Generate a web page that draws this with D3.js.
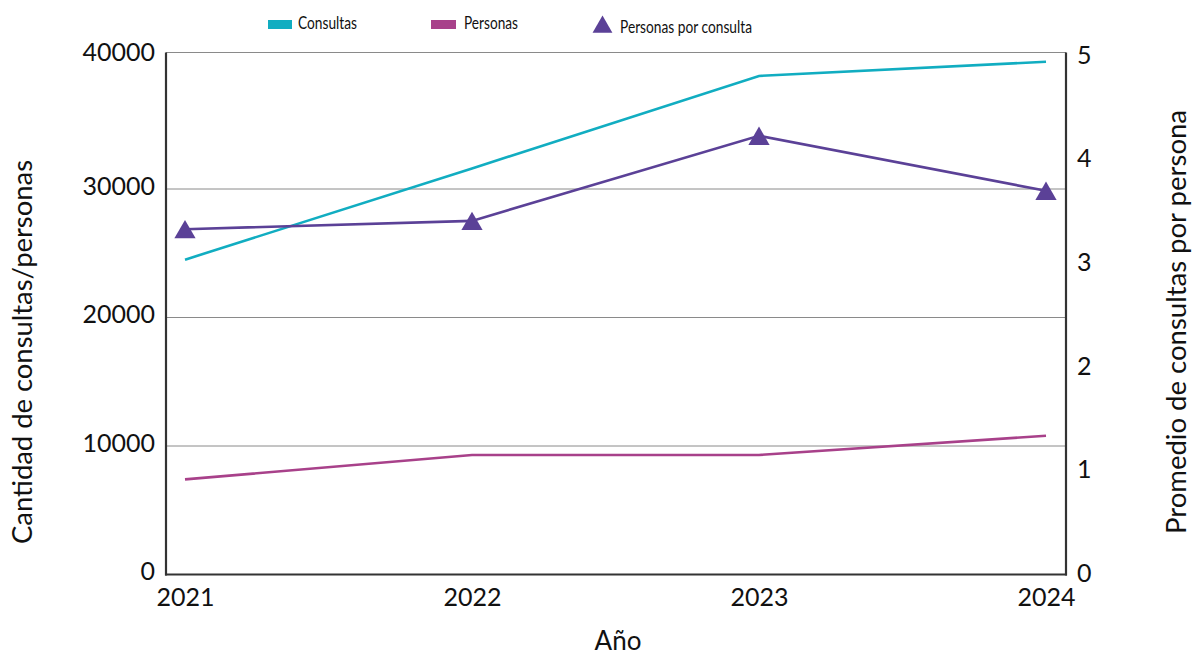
<!DOCTYPE html>
<html><head><meta charset="utf-8">
<script src="https://cdn.jsdelivr.net/npm/d3@7"></script>
<style>body{margin:0;background:#fff;} text{font-family:Lato, "Liberation Sans", sans-serif;fill:#111;}</style>
</head><body>
<svg id="c" width="1194" height="657"></svg>
<script>
const years = ["2021","2022","2023","2024"];
const consultas = [24500, 31600, 38800, 39900];
const personas = [7400, 9300, 9300, 10800];
const personasPorConsulta = [3.33, 3.41, 4.23, 3.7];
const leftTicks = [0, 10000, 20000, 30000, 40000];
const rightTicks = [0, 1, 2, 3, 4, 5];

const svg = d3.select("#c");
const L = 166, R = 1066, T = 52.5, B = 574.5;
const x = d3.scalePoint().domain(years).range([185, 1046]);
const yL = d3.scaleLinear().domain([0, 40000]).range([B, 60.5]);
const yR = d3.scaleLinear().domain([0, 5]).range([B, 56]);

const cCons = "#11adc1", cPers = "#a8418a", cPpc = "#5b4197";

// top border and gridlines
svg.append("line").attr("x1", L).attr("x2", R).attr("y1", T).attr("y2", T).attr("stroke", "#8a8a8a").attr("stroke-width", 1);
svg.append("g").selectAll("line").data(leftTicks.filter(d => d > 0 && d < 40000)).join("line")
  .attr("x1", L).attr("x2", R).attr("y1", d => yL(d)).attr("y2", d => yL(d))
  .attr("stroke", "#8a8a8a").attr("stroke-width", 1);

// axes
const axL = svg.append("g").attr("transform", `translate(${L},-3)`)
  .call(d3.axisLeft(yL).tickValues(leftTicks).tickSize(0).tickPadding(11).tickFormat(d3.format("d")));
axL.selectAll(".tick").filter(d => d === 40000).attr("transform", `translate(0,${T + 3})`);
const axR = svg.append("g").attr("transform", `translate(${R},-1)`)
  .call(d3.axisRight(yR).tickValues(rightTicks).tickSize(0).tickPadding(11).tickFormat(d3.format("d")));
const axB = svg.append("g").attr("transform", `translate(0,${B})`)
  .call(d3.axisBottom(x).tickSize(0).tickPadding(14));
[axL, axR, axB].forEach(a => {
  a.select(".domain").remove();
  a.selectAll("text").style("font-family", "Lato, sans-serif").style("font-size", "25px").attr("fill", "#111");
});
// axis lines
svg.append("line").attr("x1", L).attr("x2", L).attr("y1", T).attr("y2", B + 1).attr("stroke", "#333").attr("stroke-width", 2.2);
svg.append("line").attr("x1", R).attr("x2", R).attr("y1", T).attr("y2", B + 1).attr("stroke", "#333").attr("stroke-width", 2.2);
svg.append("line").attr("x1", L - 1).attr("x2", R + 1).attr("y1", B).attr("y2", B).attr("stroke", "#333").attr("stroke-width", 2.2);

// lines
const lineL = d3.line().x((d, i) => x(years[i])).y(d => yL(d));
const lineR = d3.line().x((d, i) => x(years[i])).y(d => yR(d));
svg.append("path").datum(consultas).attr("d", lineL).attr("fill", "none").attr("stroke", cCons).attr("stroke-width", 2.6);
svg.append("path").datum(personas).attr("d", lineL).attr("fill", "none").attr("stroke", cPers).attr("stroke-width", 2.6);
svg.append("path").datum(personasPorConsulta).attr("d", lineR).attr("fill", "none").attr("stroke", cPpc).attr("stroke-width", 2.6);
const tri = d3.symbol().type(d3.symbolTriangle).size(195);
svg.append("g").selectAll("path").data(personasPorConsulta).join("path")
  .attr("d", tri).attr("fill", cPpc)
  .attr("transform", (d, i) => `translate(${x(years[i])},${yR(d) + 3})`);

// axis titles
svg.append("text").attr("x", 618).attr("y", 650).attr("text-anchor", "middle").style("font-size", "26px").text("Año");
svg.append("text").attr("transform", "translate(32,352) rotate(-90)").attr("text-anchor", "middle").style("font-size", "26px")
  .attr("textLength", 384).attr("lengthAdjust", "spacingAndGlyphs").text("Cantidad de consultas/personas");
svg.append("text").attr("transform", "translate(1186,322) rotate(-90)").attr("text-anchor", "middle").style("font-size", "26px")
  .attr("textLength", 424).attr("lengthAdjust", "spacingAndGlyphs").text("Promedio de consultas por persona");

// legend
const lg = svg.append("g");
lg.append("rect").attr("x", 268).attr("y", 20).attr("width", 24).attr("height", 9).attr("fill", cCons);
lg.append("text").attr("x", 298).attr("y", 29).style("font-size", "16.5px")
  .attr("textLength", 59).attr("lengthAdjust", "spacingAndGlyphs").text("Consultas");
lg.append("rect").attr("x", 431).attr("y", 20).attr("width", 25).attr("height", 9).attr("fill", cPers);
lg.append("text").attr("x", 464).attr("y", 29).style("font-size", "16.5px")
  .attr("textLength", 54).attr("lengthAdjust", "spacingAndGlyphs").text("Personas");
lg.append("path").attr("d", d3.symbol().type(d3.symbolTriangle).size(170)).attr("fill", cPpc).attr("transform", "translate(602.5,27)");
lg.append("text").attr("x", 620).attr("y", 33).style("font-size", "16.5px")
  .attr("textLength", 132).attr("lengthAdjust", "spacingAndGlyphs").text("Personas por consulta");
</script>
</body></html>
